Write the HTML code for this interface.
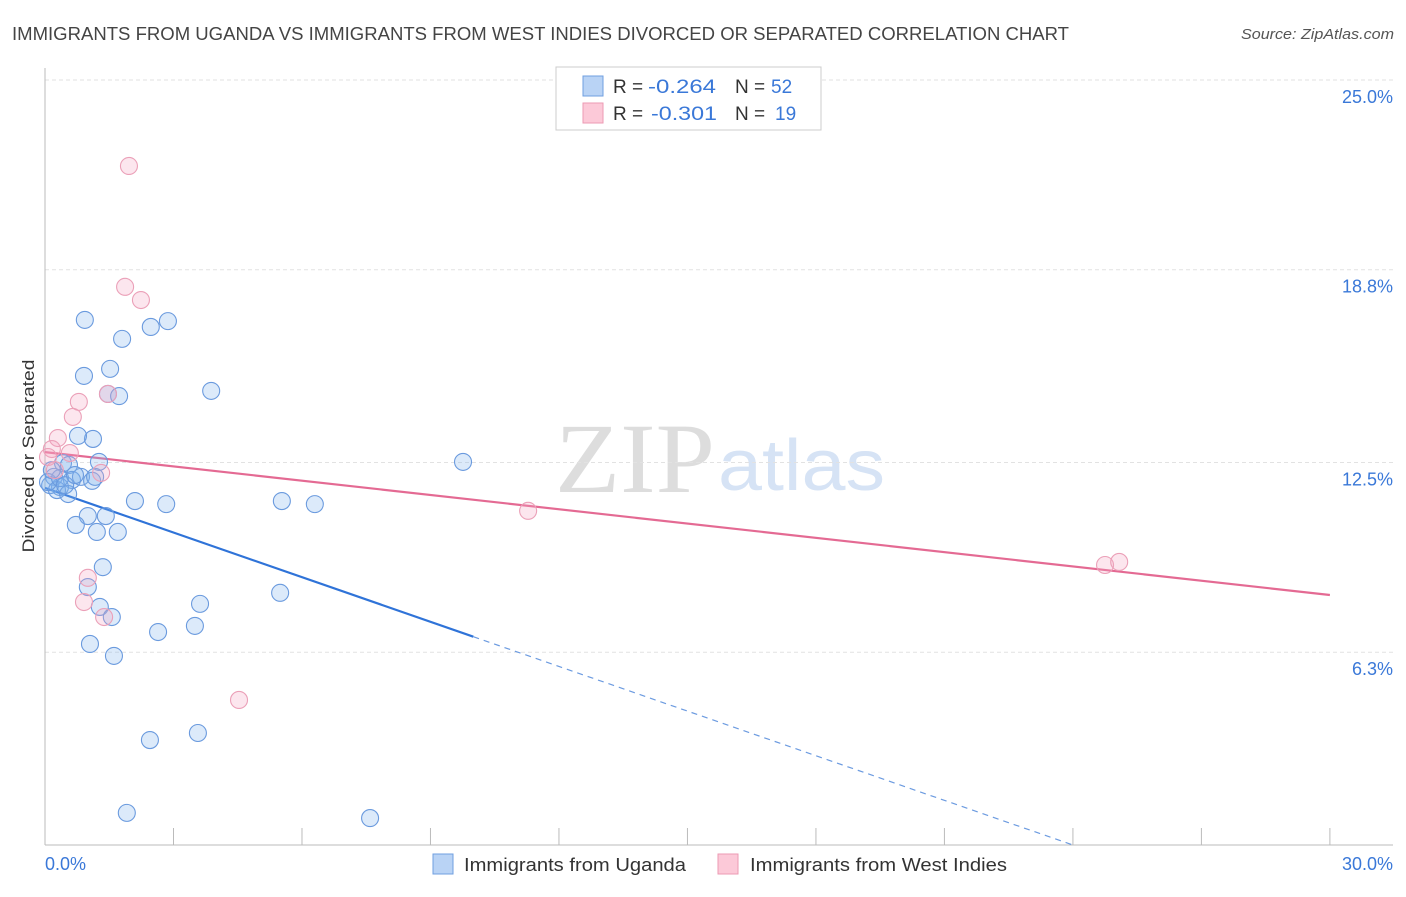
<!DOCTYPE html>
<html><head><meta charset="utf-8"><style>
body{margin:0;background:#fff;font-family:"Liberation Sans",sans-serif}
</style></head><body>
<svg width="1406" height="892" viewBox="0 0 1406 892" xmlns="http://www.w3.org/2000/svg">
<text x="12" y="40" font-size="18" fill="#444" textLength="1057" lengthAdjust="spacingAndGlyphs">IMMIGRANTS FROM UGANDA VS IMMIGRANTS FROM WEST INDIES DIVORCED OR SEPARATED CORRELATION CHART</text>
<text x="1241" y="39" font-size="15" fill="#555" font-style="italic" textLength="153" lengthAdjust="spacingAndGlyphs">Source: ZipAtlas.com</text>
<text x="555" y="492" font-size="100" fill="#ddd" font-family="Liberation Serif" textLength="160" lengthAdjust="spacingAndGlyphs">ZIP</text>
<text x="718" y="490" font-size="72" fill="#d6e3f5" textLength="167" lengthAdjust="spacingAndGlyphs">atlas</text>
<g id="grid"></g>
<g id="axes"></g>
<text transform="translate(34,456) rotate(-90)" font-size="17" fill="#333" text-anchor="middle" textLength="193" lengthAdjust="spacingAndGlyphs">Divorced or Separated</text>
<g id="lines"></g>
<g id="points"></g>
<g>
<rect x="556" y="67" width="265" height="63" fill="#fff" stroke="#ccc"/>
<rect x="583" y="76" width="20" height="20" fill="#b9d3f5" stroke="#6f9fe0"/>
<text x="613" y="93" font-size="19" fill="#333">R =</text>
<text x="648" y="93" font-size="19" fill="#3a78d8" textLength="68" lengthAdjust="spacingAndGlyphs">-0.264</text>
<text x="735" y="93" font-size="19" fill="#333">N =</text>
<text x="771" y="93" font-size="19" fill="#3a78d8">52</text>
<rect x="583" y="103" width="20" height="20" fill="#fcc9d8" stroke="#ec9ab3"/>
<text x="613" y="120" font-size="19" fill="#333">R =</text>
<text x="651" y="120" font-size="19" fill="#3a78d8" textLength="66" lengthAdjust="spacingAndGlyphs">-0.301</text>
<text x="735" y="120" font-size="19" fill="#333">N =</text>
<text x="775" y="120" font-size="19" fill="#3a78d8">19</text>
</g>
<g>
<rect x="433" y="854" width="20" height="20" fill="#b9d3f5" stroke="#6f9fe0"/>
<text x="464" y="871" font-size="18" fill="#333" textLength="222" lengthAdjust="spacingAndGlyphs">Immigrants from Uganda</text>
<rect x="718" y="854" width="20" height="20" fill="#fcc9d8" stroke="#ec9ab3"/>
<text x="750" y="871" font-size="18" fill="#333" textLength="257" lengthAdjust="spacingAndGlyphs">Immigrants from West Indies</text>
</g>
<text x="45" y="870" font-size="18" fill="#3a78d8">0.0%</text>
<text x="1393" y="870" font-size="18" fill="#3a78d8" text-anchor="end">30.0%</text>
</svg>
<script>
const yTicks=[25.0,18.8,12.5,6.3];
const yTickLabels=["25.0%","18.8%","12.5%","6.3%"];
const ugandaX=[0.93,2.47,2.87,1.80,0.91,1.52,3.88,1.47,1.73,1.12,0.77,9.76,0.42,1.26,0.56,0.21,0.63,0.84,1.10,0.35,0.12,0.28,0.54,2.10,2.83,5.53,6.30,1.00,1.42,0.72,1.21,1.70,1.35,1.00,5.49,1.28,1.56,3.62,3.50,2.64,1.05,1.61,2.45,3.57,1.91,7.59,0.07,0.35,0.47,1.17,0.16,0.70];
const ugandaY=[17.16,16.93,17.12,16.54,15.33,15.56,14.84,14.74,14.67,13.27,13.37,12.52,12.48,12.52,12.42,12.03,11.93,12.03,11.90,11.70,11.76,11.60,11.47,11.24,11.14,11.24,11.14,10.75,10.75,10.46,10.23,10.23,9.08,8.43,8.24,7.78,7.45,7.88,7.16,6.96,6.57,6.18,3.43,3.66,1.05,0.88,11.86,11.99,11.76,12.03,12.25,12.09];
const wiX=[1.96,1.87,2.24,0.79,1.47,0.65,0.30,0.16,0.58,0.07,1.31,11.28,24.75,25.08,1.00,0.91,1.38,4.53,0.23];
const wiY=[22.19,18.24,17.81,14.48,14.74,13.99,13.30,12.94,12.81,12.68,12.16,10.92,9.15,9.25,8.73,7.94,7.45,4.74,12.25];
const ugandaTrend=[11.67,0];
const ugandaTrendX=[0,24.0];
const ugandaSolidEnd=10.0;
const wiTrend=[12.84,8.17];
const wiTrendX=[0,30];

const NS="http://www.w3.org/2000/svg";
const sx=v=>45+v*42.83;
const sy=v=>845-v*30.6;
function mk(tag,attrs,parent){const e=document.createElementNS(NS,tag);for(const k in attrs)e.setAttribute(k,attrs[k]);parent.appendChild(e);return e;}
const grid=document.getElementById('grid'),axes=document.getElementById('axes'),lines=document.getElementById('lines'),pts=document.getElementById('points');
yTicks.forEach((t,i)=>{
  const l=mk('line',{x1:45,x2:1393,y1:sy(t),y2:sy(t),stroke:'#e2e2e2','stroke-dasharray':'4,3'},grid);
  
  
  const tx=mk('text',{x:1393,y:sy(t)+23,'font-size':18,fill:'#3a78d8','text-anchor':'end'},grid);
  tx.textContent=yTickLabels[i];
  
  
});
const ya=mk('line',{x1:45,x2:45,y1:68,y2:845,stroke:'#bbb'},axes);


const xa=mk('line',{x1:45,x2:1393,y1:845,y2:845,stroke:'#bbb'},axes);


for(let i=1;i<=10;i++){
  const t=mk('line',{x1:sx(i*3),x2:sx(i*3),y1:828,y2:845,stroke:'#bbb'},axes);
  
  
}
const slope=(ugandaTrend[1]-ugandaTrend[0])/(ugandaTrendX[1]-ugandaTrendX[0]);
const yAt=x=>ugandaTrend[0]+slope*(x-ugandaTrendX[0]);
const ub=mk('line',{x1:sx(ugandaTrendX[0]),y1:sy(yAt(ugandaTrendX[0])),x2:sx(ugandaSolidEnd),y2:sy(yAt(ugandaSolidEnd)),stroke:'#2f73d8','stroke-width':2.2},lines);


const ud=mk('line',{x1:sx(ugandaSolidEnd),y1:sy(yAt(ugandaSolidEnd)),x2:sx(ugandaTrendX[1]),y2:sy(ugandaTrend[1]),stroke:'#6c9be0','stroke-width':1.2,'stroke-dasharray':'6,5'},lines);


const wl=mk('line',{x1:sx(wiTrendX[0]),y1:sy(wiTrend[0]),x2:sx(wiTrendX[1]),y2:sy(wiTrend[1]),stroke:'#e46a93','stroke-width':2.2},lines);


ugandaX.forEach((x,i)=>{
  const c=mk('circle',{cx:sx(x),cy:sy(ugandaY[i]),r:8.5,fill:'rgba(130,178,238,0.28)',stroke:'#6a9ade','stroke-width':1.1},pts);
  
  
});
wiX.forEach((x,i)=>{
  const c=mk('circle',{cx:sx(x),cy:sy(wiY[i]),r:8.5,fill:'rgba(245,165,195,0.28)',stroke:'#eba0b8','stroke-width':1.1},pts);
  
  
});
</script>
</body></html>
